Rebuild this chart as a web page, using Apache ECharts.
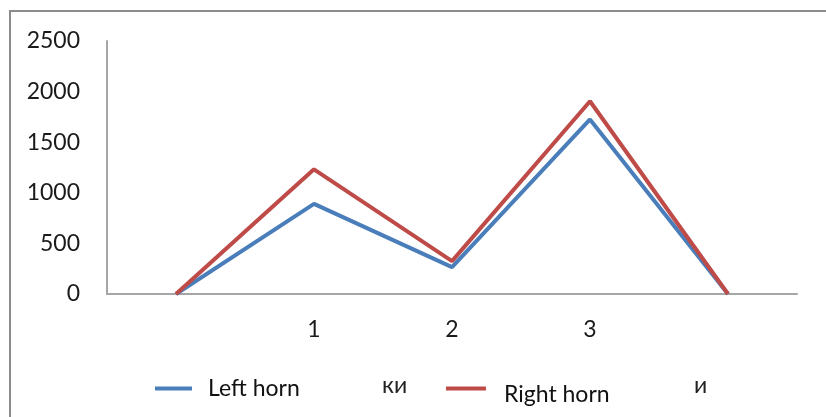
<!DOCTYPE html>
<html>
<head>
<meta charset="utf-8">
<script src="https://cdn.jsdelivr.net/npm/echarts@6/dist/echarts.min.js"></script>
<style>
  html, body { margin: 0; padding: 0; background: #fff; }
  #chart { width: 826px; height: 417px; }
</style>
</head>
<body>
<div id="chart"></div>
<script>
// Category slots along the x axis; the outer two carry no label
const categories = ['', '1', '2', '3', ''];
const leftHorn = [0, 890, 265, 1725, 0];
const rightHorn = [0, 1232, 325, 1905, 0];
const yTicks = { min: 0, max: 2500, interval: 500 };

const fontFamily = 'Lato, "Open Sans", sans-serif';
const chart = echarts.init(document.getElementById('chart'));

// Legend swatch whose bar sits at the top of its box, so the label hangs lower
const raisedBar = 'path://M0,0 H40 V4 H0 Z M0,16 H0.01 V16.01 H0 Z';

chart.setOption({
  animation: false,
  backgroundColor: '#ffffff',
  textStyle: { fontFamily: fontFamily },
  grid: { left: 107, right: 29, top: 41, bottom: 123, containLabel: false },
  xAxis: {
    type: 'category',
    data: categories,
    boundaryGap: true,
    axisLine: { lineStyle: { color: '#a6a6a6', width: 2 } },
    axisTick: { show: false },
    axisLabel: { color: '#1a1a1a', fontSize: 23, margin: 24, fontFamily: fontFamily }
  },
  yAxis: {
    type: 'value',
    min: yTicks.min,
    max: yTicks.max,
    interval: yTicks.interval,
    axisLine: { show: true, lineStyle: { color: '#a6a6a6', width: 2 } },
    axisTick: { show: false },
    splitLine: { show: false },
    axisLabel: {
      color: '#1a1a1a', fontSize: 23, margin: 27, fontFamily: fontFamily,
      formatter: function (v) { return String(v); }
    }
  },
  legend: [
    {
      data: ['Left horn'],
      left: 150, top: 372,
      itemWidth: 37, itemHeight: 4, itemGap: 10,
      icon: 'rect',
      textStyle: { fontSize: 23, color: '#111', fontFamily: fontFamily, padding: [0, 0, 2, 11] }
    },
    {
      data: ['Right horn'],
      left: 441, top: 378,
      itemWidth: 40, itemHeight: 16,
      icon: raisedBar,
      textStyle: { fontSize: 23, color: '#111', fontFamily: fontFamily, padding: [0, 0, 0, 13] }
    }
  ],
  graphic: [
    {
      type: 'rect',
      shape: { x: 10, y: 11, width: 840, height: 440 },
      style: { fill: 'none', stroke: '#8c8c8c', lineWidth: 2 },
      silent: true
    },
    {
      type: 'text', x: 382, y: 386,
      style: { text: 'ки', fontSize: 23, fill: '#222', fontFamily: fontFamily, verticalAlign: 'middle' }
    },
    {
      type: 'text', x: 694, y: 386,
      style: { text: 'и', fontSize: 23, fill: '#222', fontFamily: fontFamily, verticalAlign: 'middle' }
    }
  ],
  series: [
    {
      name: 'Left horn',
      type: 'line',
      data: leftHorn,
      symbol: 'none',
      lineStyle: { color: '#4a7ebb', width: 4 },
      itemStyle: { color: '#4a7ebb' }
    },
    {
      name: 'Right horn',
      type: 'line',
      data: rightHorn,
      symbol: 'none',
      lineStyle: { color: '#be4b48', width: 4 },
      itemStyle: { color: '#be4b48' }
    }
  ]
});
</script>
</body>
</html>
